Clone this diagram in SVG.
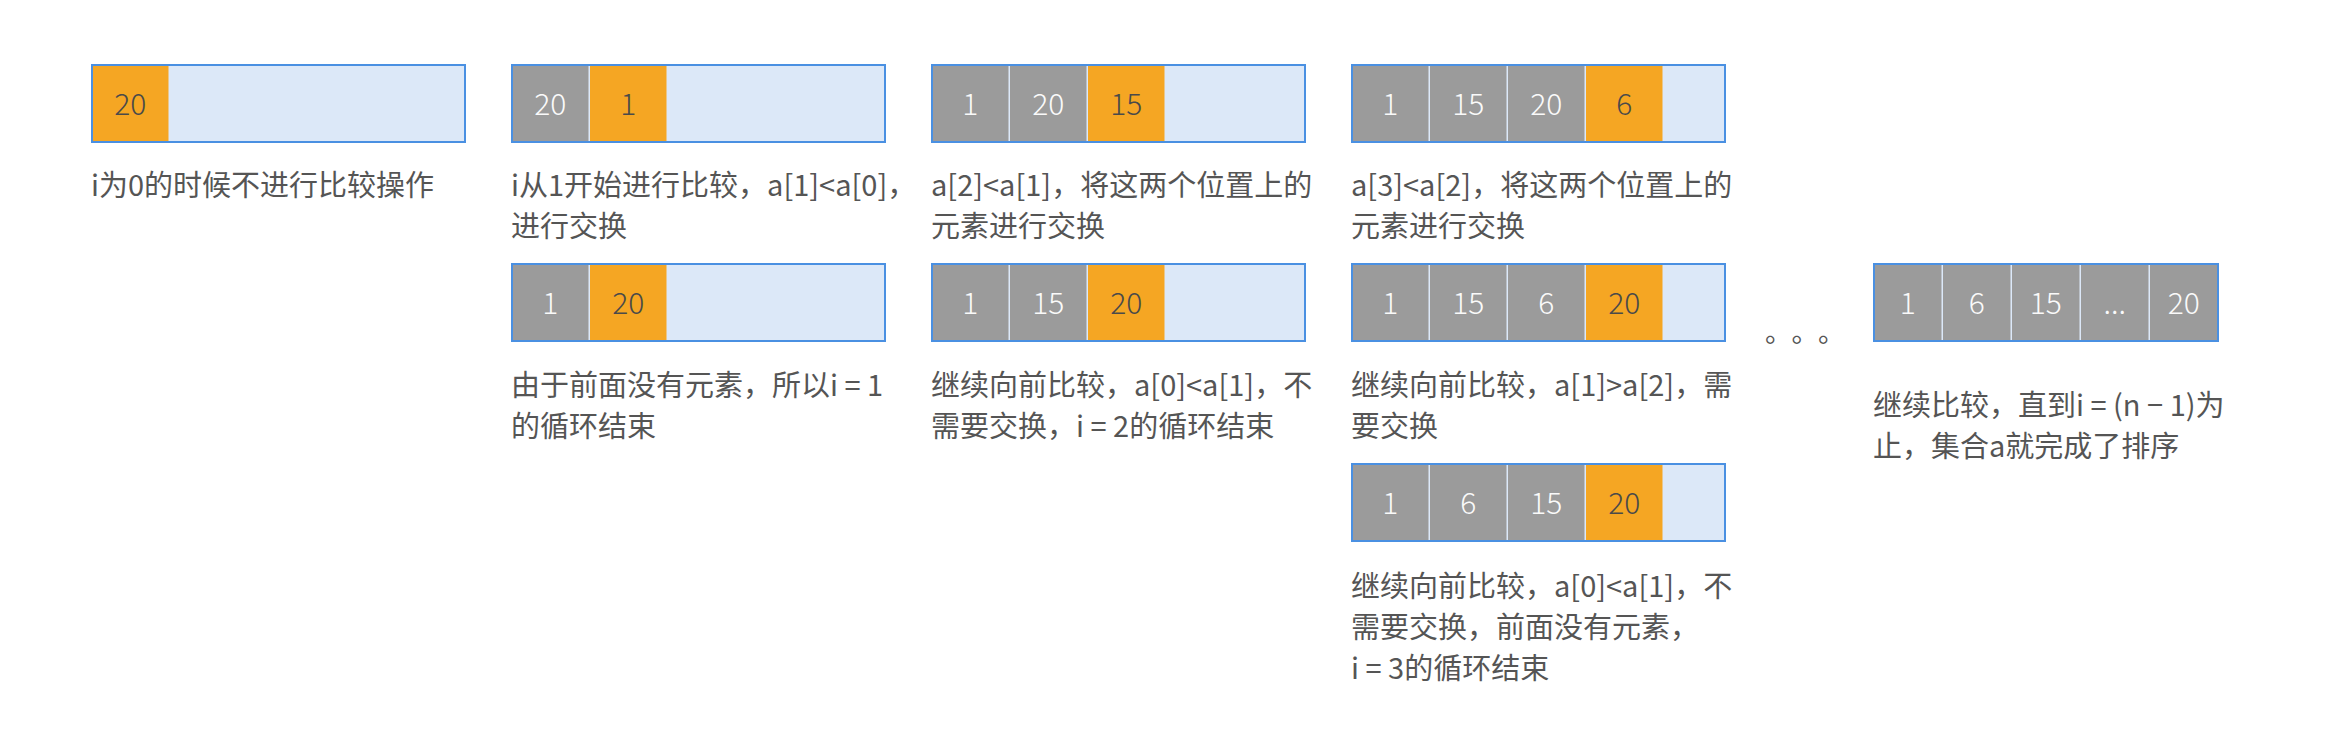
<svg xmlns="http://www.w3.org/2000/svg" width="2332" height="746" viewBox="0 0 2332 746">
<style>
.bg{fill:#DCE8F8}
.bd{fill:none;stroke:#4A90E2;stroke-width:2}
.g{fill:#9B9B9B}
.o{fill:#F5A623}
.dw{font-family:"Noto Sans CJK SC","Noto Sans",sans-serif;font-weight:300;font-size:30px;fill:#FAFAFA;text-anchor:middle}
.dk{font-family:"Noto Sans CJK SC","Noto Sans",sans-serif;font-weight:300;font-size:30px;fill:#4A4A4A;text-anchor:middle}
.lb{font-family:"Noto Sans CJK SC","Noto Sans",sans-serif;font-size:29px;fill:#555555}
.el{font-family:"Noto Sans CJK SC","Noto Sans",sans-serif;font-size:27px;fill:#555555}
</style>
<rect width="2332" height="746" fill="#FFFFFF"/>

<g id="step0">
<rect class="bg" x="91" y="64" width="375" height="79"/>
<rect class="o" x="92" y="64" width="76.5" height="79"/>
<text class="dk" x="130.25" y="115">20</text>
<rect class="bd" x="92" y="65" width="373" height="77"/>
<text class="lb" x="91" y="196">i为0的时候不进行比较操作</text>
</g>

<g id="step1a">
<rect class="bg" x="511" y="64" width="375" height="79"/>
<rect class="g" x="512" y="64" width="76.5" height="79"/>
<rect class="o" x="590" y="64" width="76.5" height="79"/>
<text class="dw" x="550.25" y="115">20</text>
<text class="dk" x="628.25" y="115">1</text>
<rect class="bd" x="512" y="65" width="373" height="77"/>
<text class="lb" x="511" y="196">i从1开始进行比较，a[1]&lt;a[0]，</text>
<text class="lb" x="511" y="237">进行交换</text>
</g>

<g id="step2a">
<rect class="bg" x="931" y="64" width="375" height="79"/>
<rect class="g" x="932" y="64" width="76.5" height="79"/>
<rect class="g" x="1010" y="64" width="76.5" height="79"/>
<rect class="o" x="1088" y="64" width="76.5" height="79"/>
<text class="dw" x="970.25" y="115">1</text>
<text class="dw" x="1048.25" y="115">20</text>
<text class="dk" x="1126.25" y="115">15</text>
<rect class="bd" x="932" y="65" width="373" height="77"/>
<text class="lb" x="931" y="196">a[2]&lt;a[1]，将这两个位置上的</text>
<text class="lb" x="931" y="237">元素进行交换</text>
</g>

<g id="step3a">
<rect class="bg" x="1351" y="64" width="375" height="79"/>
<rect class="g" x="1352" y="64" width="76.5" height="79"/>
<rect class="g" x="1430" y="64" width="76.5" height="79"/>
<rect class="g" x="1508" y="64" width="76.5" height="79"/>
<rect class="o" x="1586" y="64" width="76.5" height="79"/>
<text class="dw" x="1390.25" y="115">1</text>
<text class="dw" x="1468.25" y="115">15</text>
<text class="dw" x="1546.25" y="115">20</text>
<text class="dk" x="1624.25" y="115">6</text>
<rect class="bd" x="1352" y="65" width="373" height="77"/>
<text class="lb" x="1351" y="196">a[3]&lt;a[2]，将这两个位置上的</text>
<text class="lb" x="1351" y="237">元素进行交换</text>
</g>

<g id="step1b">
<rect class="bg" x="511" y="263" width="375" height="79"/>
<rect class="g" x="512" y="263" width="76.5" height="79"/>
<rect class="o" x="590" y="263" width="76.5" height="79"/>
<text class="dw" x="550.25" y="313.5">1</text>
<text class="dk" x="628.25" y="313.5">20</text>
<rect class="bd" x="512" y="264" width="373" height="77"/>
<text class="lb" x="511" y="396">由于前面没有元素，所以i = 1</text>
<text class="lb" x="511" y="437">的循环结束</text>
</g>

<g id="step2b">
<rect class="bg" x="931" y="263" width="375" height="79"/>
<rect class="g" x="932" y="263" width="76.5" height="79"/>
<rect class="g" x="1010" y="263" width="76.5" height="79"/>
<rect class="o" x="1088" y="263" width="76.5" height="79"/>
<text class="dw" x="970.25" y="313.5">1</text>
<text class="dw" x="1048.25" y="313.5">15</text>
<text class="dk" x="1126.25" y="313.5">20</text>
<rect class="bd" x="932" y="264" width="373" height="77"/>
<text class="lb" x="931" y="396">继续向前比较，a[0]&lt;a[1]，不</text>
<text class="lb" x="931" y="437">需要交换，i = 2的循环结束</text>
</g>

<g id="step3b">
<rect class="bg" x="1351" y="263" width="375" height="79"/>
<rect class="g" x="1352" y="263" width="76.5" height="79"/>
<rect class="g" x="1430" y="263" width="76.5" height="79"/>
<rect class="g" x="1508" y="263" width="76.5" height="79"/>
<rect class="o" x="1586" y="263" width="76.5" height="79"/>
<text class="dw" x="1390.25" y="313.5">1</text>
<text class="dw" x="1468.25" y="313.5">15</text>
<text class="dw" x="1546.25" y="313.5">6</text>
<text class="dk" x="1624.25" y="313.5">20</text>
<rect class="bd" x="1352" y="264" width="373" height="77"/>
<text class="lb" x="1351" y="396">继续向前比较，a[1]&gt;a[2]，需</text>
<text class="lb" x="1351" y="437">要交换</text>
</g>

<g id="step3c">
<rect class="bg" x="1351" y="463" width="375" height="79"/>
<rect class="g" x="1352" y="463" width="76.5" height="79"/>
<rect class="g" x="1430" y="463" width="76.5" height="79"/>
<rect class="g" x="1508" y="463" width="76.5" height="79"/>
<rect class="o" x="1586" y="463" width="76.5" height="79"/>
<text class="dw" x="1390.25" y="513.5">1</text>
<text class="dw" x="1468.25" y="513.5">6</text>
<text class="dw" x="1546.25" y="513.5">15</text>
<text class="dk" x="1624.25" y="513.5">20</text>
<rect class="bd" x="1352" y="464" width="373" height="77"/>
<text class="lb" x="1351" y="597">继续向前比较，a[0]&lt;a[1]，不</text>
<text class="lb" x="1351" y="638">需要交换，前面没有元素，</text>
<text class="lb" x="1351" y="679">i = 3的循环结束</text>
</g>

<g id="ellipsis">
<text class="el" x="1765 1791.5 1818" y="342">。。。</text>
</g>

<g id="final">
<rect class="bg" x="1873" y="263" width="346" height="79"/>
<rect class="g" x="1874" y="263" width="67.5" height="79"/>
<rect class="g" x="1943" y="263" width="67.5" height="79"/>
<rect class="g" x="2012" y="263" width="67.5" height="79"/>
<rect class="g" x="2081" y="263" width="67.5" height="79"/>
<rect class="g" x="2150" y="263" width="67.5" height="79"/>
<text class="dw" x="1907.75" y="313.5">1</text>
<text class="dw" x="1976.75" y="313.5">6</text>
<text class="dw" x="2045.75" y="313.5">15</text>
<text class="dw" x="2114.75" y="313.5">...</text>
<text class="dw" x="2183.75" y="313.5">20</text>
<rect class="bd" x="1874" y="264" width="344" height="77"/>
<text class="lb" x="1873" y="416">继续比较，直到i = (n − 1)为</text>
<text class="lb" x="1873" y="457">止，集合a就完成了排序</text>
</g>
</svg>
